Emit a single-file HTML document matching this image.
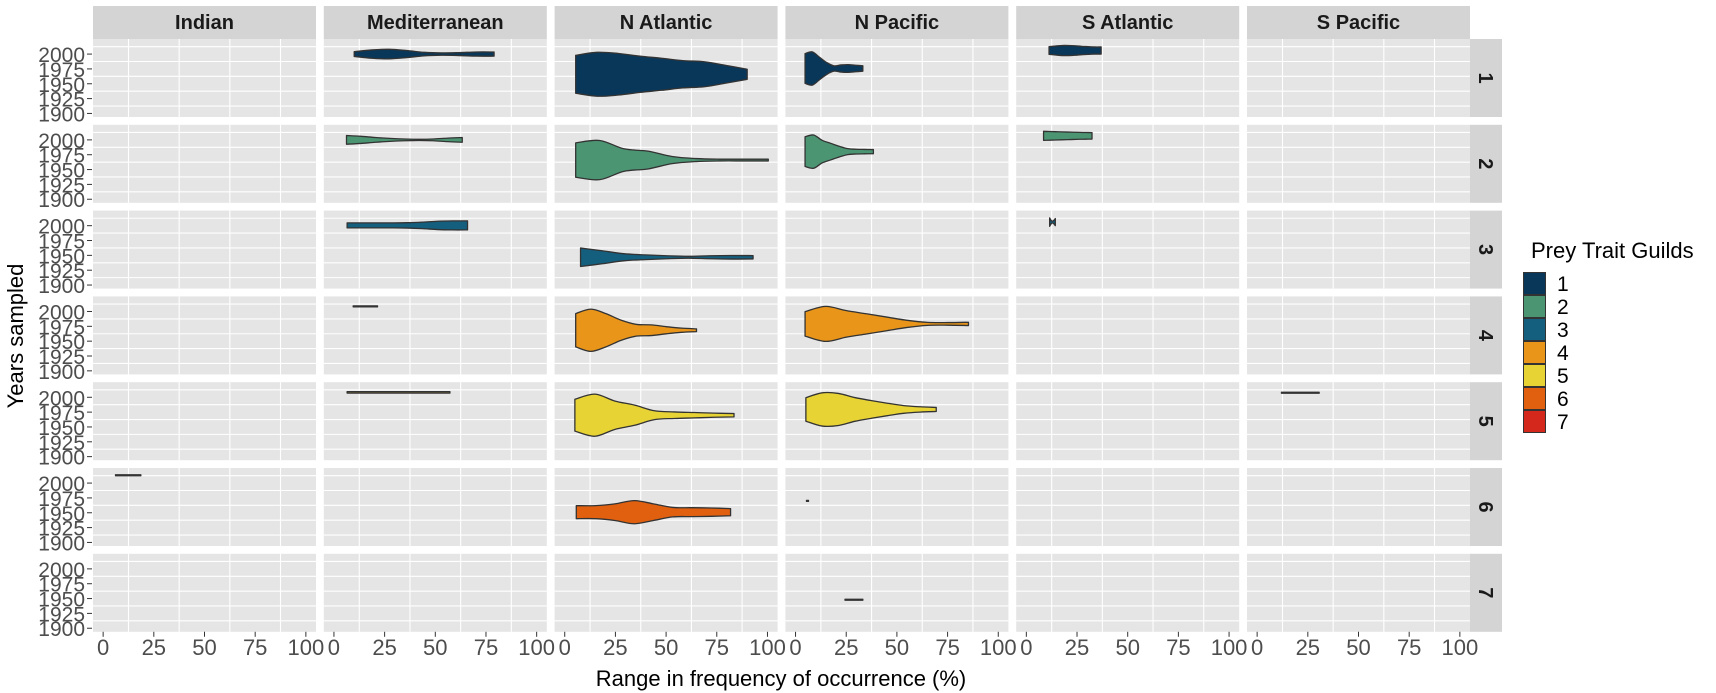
<!DOCTYPE html>
<html><head><meta charset="utf-8"><style>
html,body{margin:0;padding:0;background:#fff;}
svg{display:block;font-family:"Liberation Sans",Arial,sans-serif;}
</style></head><body>
<svg id="chart" width="1716" height="693" viewBox="0 0 1716 693" xmlns="http://www.w3.org/2000/svg">
<g id="panels"></g>
<g id="violins"></g>
<g id="axes"></g>
<text x="781" y="686" font-size="22" text-anchor="middle" fill="#000">Range in frequency of occurrence (%)</text>
<text transform="translate(23,336) rotate(-90)" font-size="22" text-anchor="middle" fill="#000">Years sampled</text>
<g id="legend"></g>
</svg>
<script>
const regions = ["Indian","Mediterranean","N Atlantic","N Pacific","S Atlantic","S Pacific"];
const guilds = ["1","2","3","4","5","6","7"];
const guildColors = ["#08375A","#4C9573","#145E7E","#E8951A","#E8D335","#E0600F","#D5281C"];
const xTicks = [0,25,50,75,100];
const xTickLabels = ["0","25","50","75","100"];
const yTicks = [1900,1925,1950,1975,2000];
const yTickLabels = ["1900","1925","1950","1975","2000"];
const xGrid = [12.5,37.5,62.5,87.5];
const yGrid = [1912.5,1937.5,1962.5,1987.5,2012.5];
// violins: guild index, region index, x range, centre year, half-width profile (years)
const vGuild  = [0,0,0,0, 1,1,1,1, 2,2,2, 3,3,3, 4,4,4,4, 5,5,5, 6];
const vRegion = [1,2,3,4, 1,2,3,4, 1,2,4, 1,2,3, 1,2,3,5, 0,2,3, 3];
const vXmin   = [10,5.4,4.7,11.2, 6.2,5.4,4.7,8.5, 6.5,7.8,11.5, 9.5,5.4,4.7, 6.5,5,5.1,12, 6.1,5.7,5.4, 24.4];
const vXmax   = [79,90,33.2,36.9, 63.3,100.4,38.4,32.4, 65.9,92.9,14.3, 21.5,65,85.3, 57.2,83.5,69.4,30.6, 18.6,81.8,6.4, 33.2];
const vCenter = [2000,1966,1975.7,2006, 2000,1966,1980.2,2006.8, 2000.5,1946.8,2006, 2008.6,1968.4,1979.1, 2008.3,1969.8,1979.5,2007.6, 2013.2,1951,1970, 1948];
const vWidths = [
 [4,7,8,6,3,2,2.5,3.5,3.5],
 [32,37,35,30.5,27,23,21,15,8.5],
 [25,28,19,10,4.5,6,6.5,5.5,4.5],
 [6.5,7.5,8.5,8.5,8,7,6.5,6,6],
 [7.3,6,4,2.5,1.5,1,1.5,3,4],
 [29,33,19,15,6,2.5,1.5,1.5,1.5],
 [25,28,19,14,9,5,4,3.7,3.5],
 [7.6,7.3,7,6.7,6.4,6.1,5.8,5.6,5.4],
 [4.2,4.2,4.2,4.2,4.5,5.5,7,7.6,7.6],
 [15.5,11,6,4,2.5,1.6,2.5,3,2.8],
 [7,3,1.5,3,6],
 [0.8,0.8],
 [28,35.6,28,17,10,9,6,3.5,2.3],
 [20.6,29.5,22.5,17,11.5,6,2.5,2.2,2.8],
 [1.2,1.2],
 [26.8,35.5,24,17,7.5,5.5,4.5,3.5,2.8],
 [19.8,28,27,20,15,10.5,6.5,4.5,3.4],
 [0.8,0.8],
 [0.8,0.8],
 [11,11,14,19.5,14,8,7.5,7,6],
 [0.8,0.8],
 [0.8,0.8]
];

const NS="http://www.w3.org/2000/svg";
const PW=223, PH=78, XD0=-5, XD1=105, YD0=1894, YD1=2025.4;
function colLeft(c){return 93+c*230.8;}
function rowTop(r){return 39+r*85.8;}
function xs(c,v){return colLeft(c)+(v-XD0)/(XD1-XD0)*PW;}
function ys(r,y){return rowTop(r)+(YD1-y)/(YD1-YD0)*PH;}
function mk(tag,attrs,parent){const e=document.createElementNS(NS,tag);for(const k in attrs)e.setAttribute(k,attrs[k]);parent.appendChild(e);return e;}

const P=document.getElementById('panels');
const A=document.getElementById('axes');
for(let c=0;c<regions.length;c++){
  const st=mk('rect',{x:colLeft(c),y:6,width:PW,height:33,fill:"#D4D4D4"},P);
  
  
  const t=mk('text',{x:colLeft(c)+PW/2,y:29,'font-size':20,'font-weight':'bold','text-anchor':'middle',fill:'#1A1A1A'},P);
  t.textContent=regions[c];
  
  
}
for(let r=0;r<guilds.length;r++){
  const st=mk('rect',{x:1470,y:rowTop(r),width:32,height:PH,fill:"#D4D4D4"},P);
  
  
  const cx=1486, cy=rowTop(r)+PH/2;
  const t=mk('text',{x:cx,y:cy+7,'font-size':20,'font-weight':'bold','text-anchor':'middle',fill:'#1A1A1A',transform:`rotate(90 ${cx} ${cy})`},P);
  t.textContent=guilds[r];
  
  
  for(let c=0;c<regions.length;c++){
    const bg=mk('rect',{x:colLeft(c),y:rowTop(r),width:PW,height:PH,fill:"#E5E5E5"},P);
    
    
    xGrid.forEach(v=>{mk('line',{x1:xs(c,v),x2:xs(c,v),y1:rowTop(r),y2:rowTop(r)+PH,stroke:'#fff','stroke-width':1.1},P);});
    yGrid.forEach(v=>{mk('line',{x1:colLeft(c),x2:colLeft(c)+PW,y1:ys(r,v),y2:ys(r,v),stroke:'#fff','stroke-width':1.1},P);});
  }
  yTicks.forEach((v,i)=>{
    const y=ys(r,v);
    mk('line',{x1:87,x2:92,y1:y,y2:y,stroke:'#333','stroke-width':1},A);
    const t=mk('text',{x:85,y:y+8,'font-size':21,'text-anchor':'end',fill:'#4D4D4D'},A);
    t.textContent=yTickLabels[i];
    
    
  });
}
const bottom=rowTop(6)+PH;
for(let c=0;c<regions.length;c++){
  xTicks.forEach((v,i)=>{
    const x=xs(c,v);
    mk('line',{x1:x,x2:x,y1:bottom,y2:bottom+5,stroke:'#333','stroke-width':1},A);
    const t=mk('text',{x:x,y:655,'font-size':22,'text-anchor':'middle',fill:'#4D4D4D'},A);
    t.textContent=xTickLabels[i];
    
    
  });
}
function spline(pts){
  let d='';
  for(let i=0;i<pts.length-1;i++){
    const p0=pts[Math.max(0,i-1)],p1=pts[i],p2=pts[i+1],p3=pts[Math.min(pts.length-1,i+2)];
    const c1x=p1[0]+(p2[0]-p0[0])/6,c1y=p1[1]+(p2[1]-p0[1])/6;
    const c2x=p2[0]-(p3[0]-p1[0])/6,c2y=p2[1]-(p3[1]-p1[1])/6;
    d+=` C${c1x.toFixed(2)},${c1y.toFixed(2)} ${c2x.toFixed(2)},${c2y.toFixed(2)} ${p2[0].toFixed(2)},${p2[1].toFixed(2)}`;
  }
  return d;
}
const V=document.getElementById('violins');
for(let k=0;k<vGuild.length;k++){
  const r=vGuild[k],c=vRegion[k],w=vWidths[k],n=w.length;
  const top=[],bot=[];
  for(let i=0;i<n;i++){
    const xv=vXmin[k]+(vXmax[k]-vXmin[k])*i/(n-1);
    top.push([xs(c,xv),ys(r,vCenter[k]+w[i])]);
    bot.push([xs(c,xv),ys(r,vCenter[k]-w[i])]);
  }
  bot.reverse();
  const d=`M${top[0][0]},${top[0][1]}`+spline(top)+` L${bot[0][0]},${bot[0][1]}`+spline(bot)+' Z';
  const p=mk('path',{d:d,fill:guildColors[r],stroke:'#333','stroke-width':1.3,'stroke-linejoin':'round'},V);
  
  
}
const L=document.getElementById('legend');
const lt=mk('text',{x:1531,y:258,'font-size':22,fill:'#000'},L);
lt.textContent='Prey Trait Guilds';


for(let i=0;i<guilds.length;i++){
  const y=272+i*23;
  const rc=mk('rect',{x:1523.5,y:y+0.5,width:22,height:22,fill:guildColors[i],stroke:'#333','stroke-width':1},L);
  
  
  const t=mk('text',{x:1557,y:y+19,'font-size':21,fill:'#000'},L);
  t.textContent=guilds[i];
  
  
}
</script>
</body></html>
